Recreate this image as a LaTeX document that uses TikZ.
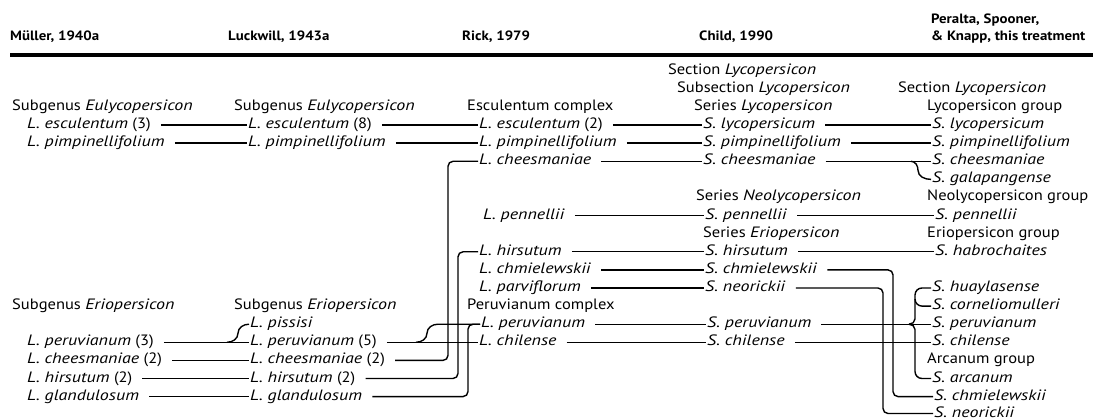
\documentclass[tikz,border=0pt]{standalone}
\usepackage{fontspec}
\setmainfont{PT Sans}[FakeStretch=1.1, ItalicFeatures={FakeStretch=1.2}]
\begin{document}
\begin{tikzpicture}[x=1pt,y=1pt,
  t/.style={anchor=west, inner sep=0pt, text height=10pt, text depth=3pt, font=\fontsize{15}{17}\selectfont},
  hd/.style={t, font=\fontsize{13.5}{16}\selectfont\bfseries},
  ln/.style={line width=1.4pt},
  rc/.style={ln, rounded corners=5pt},
  rule/.style={line width=3.6pt}]
\useasboundingbox (0,0) rectangle (1099,-419);
% headers
\node[hd] (hM) at (10,-37) {Müller, 1940a};
\node[hd] (hL) at (228,-37) {Luckwill, 1943a};
\node[hd] (hR) at (462,-37) {Rick, 1979};
\node[hd] (hC) at (699,-37) {Child, 1990};
\node[hd] (hP1) at (931,-20) {Peralta, Spooner,};
\node[hd] (hP2) at (931,-37) {\& Knapp, this treatment};
\coordinate (ruleL) at (10,-55);
\coordinate (ruleR) at (1093,-55);
\draw[rule] (ruleL) -- (ruleR);
% Muller
\node[t] (mSub) at (12,-107) {Subgenus \textit{Eulycopersicon}};
\node[t] (mEsc) at (27,-125.1) {\textit{L. esculentum} (3)};
\node[t] (mPim) at (27,-143.2) {\textit{L. pimpinellifolium}};
\node[t] (mSub2) at (12,-306.1) {Subgenus \textit{Eriopersicon}};
\node[t] (mPer) at (27,-342.3) {\textit{L. peruvianum} (3)};
\node[t] (mChe) at (27,-360.4) {\textit{L. cheesmaniae} (2)};
\node[t] (mHir) at (27,-378.5) {\textit{L. hirsutum} (2)};
\node[t] (mGla) at (27,-396.6) {\textit{L. glandulosum}};
% Luckwill
\node[t] (lSub) at (234,-107) {Subgenus \textit{Eulycopersicon}};
\node[t] (lEsc) at (248,-125.1) {\textit{L. esculentum} (8)};
\node[t] (lPim) at (248,-143.2) {\textit{L. pimpinellifolium}};
\node[t] (lSub2) at (234,-306.1) {Subgenus \textit{Eriopersicon}};
\node[t] (lPis) at (250,-324.2) {\textit{L. pissisi}};
\node[t] (lPer) at (250,-342.3) {\textit{L. peruvianum} (5)};
\node[t] (lChe) at (250,-360.4) {\textit{L. cheesmaniae} (2)};
\node[t] (lHir) at (250,-378.5) {\textit{L. hirsutum} (2)};
\node[t] (lGla) at (250,-396.6) {\textit{L. glandulosum}};
% Rick
\node[t] (rCx) at (467,-107) {Esculentum complex};
\node[t] (rEsc) at (479,-125.1) {\textit{L. esculentum} (2)};
\node[t] (rPim) at (479,-143.2) {\textit{L. pimpinellifolium}};
\node[t] (rChe) at (479,-161.3) {\textit{L. cheesmaniae}};
\node[t] (rPen) at (483,-215.6) {\textit{L. pennellii}};
\node[t] (rHir) at (479,-251.8) {\textit{L. hirsutum}};
\node[t] (rChm) at (479,-269.9) {\textit{L. chmielewskii}};
\node[t] (rPar) at (479,-288) {\textit{L. parviflorum}};
\node[t] (rPx) at (467,-306.1) {Peruvianum complex};
\node[t] (rPer) at (481,-324.2) {\textit{L. peruvianum}};
\node[t] (rChi) at (479,-342.3) {\textit{L. chilense}};
% Child
\node[t] (cSec) at (668,-70.8) {Section \textit{Lycopersicon}};
\node[t] (cSub) at (677,-88.9) {Subsection \textit{Lycopersicon}};
\node[t] (cSer) at (694,-107) {Series \textit{Lycopersicon}};
\node[t] (cLyc) at (703,-125.1) {\textit{S. lycopersicum}};
\node[t] (cPim) at (703,-143.2) {\textit{S. pimpinellifolium}};
\node[t] (cChe) at (703,-161.3) {\textit{S. cheesmaniae}};
\node[t] (cSerN) at (696,-197.5) {Series \textit{Neolycopersicon}};
\node[t] (cPen) at (705,-215.6) {\textit{S. pennellii}};
\node[t] (cSerE) at (703,-233.7) {Series \textit{Eriopersicon}};
\node[t] (cHir) at (705,-251.8) {\textit{S. hirsutum}};
\node[t] (cChm) at (705,-269.9) {\textit{S. chmielewskii}};
\node[t] (cNeo) at (705,-288) {\textit{S. neorickii}};
\node[t] (cPer) at (707,-324.2) {\textit{S. peruvianum}};
\node[t] (cChi) at (707,-342.3) {\textit{S. chilense}};
% Peralta et al.
\node[t] (pSec) at (898,-88.9) {Section \textit{Lycopersicon}};
\node[t] (pLg) at (927,-107) {Lycopersicon group};
\node[t] (pLyc) at (932,-125.1) {\textit{S. lycopersicum}};
\node[t] (pPim) at (932,-143.2) {\textit{S. pimpinellifolium}};
\node[t] (pChe) at (932,-161.3) {\textit{S. cheesmaniae}};
\node[t] (pGal) at (932,-179.4) {\textit{S. galapangense}};
\node[t] (pNg) at (927,-197.5) {Neolycopersicon group};
\node[t] (pPen) at (935,-215.6) {\textit{S. pennellii}};
\node[t] (pEg) at (927,-233.7) {Eriopersicon group};
\node[t] (pHab) at (935,-251.8) {\textit{S. habrochaites}};
\node[t] (pHua) at (932,-288) {\textit{S. huaylasense}};
\node[t] (pCor) at (932,-306.1) {\textit{S. corneliomulleri}};
\node[t] (pPer) at (932,-324.2) {\textit{S. peruvianum}};
\node[t] (pChi) at (932,-342.3) {\textit{S. chilense}};
\node[t] (pAg) at (927,-360.4) {Arcanum group};
\node[t] (pArc) at (932,-378.5) {\textit{S. arcanum}};
\node[t] (pChm) at (934,-396.6) {\textit{S. chmielewskii}};
\node[t] (pNeo) at (934,-413.5) {\textit{S. neorickii}};
% straight connectors
\foreach \a/\b in {mEsc/lEsc, mPim/lPim, mPer/lPer, mChe/lChe, mHir/lHir, mGla/lGla,
  lEsc/rEsc, lPim/rPim, lPer/rChi,
  rEsc/cLyc, rPim/cPim, rChe/cChe, rPen/cPen, rHir/cHir, rChm/cChm, rPar/cNeo, rPer/cPer, rChi/cChi,
  cLyc/pLyc, cPim/pPim, cChe/pChe, cPen/pPen, cHir/pHab, cPer/pPer, cChi/pChi}
  \draw[ln] ([xshift=10pt]\a.east) -- ([xshift=-1pt]\b.west);
% vertical routes
\coordinate (v1) at (448,0);
\coordinate (v2) at (458,0);
\coordinate (v3) at (468,0);
\coordinate (v4) at (883,0);
\coordinate (v5) at (893,0);
\draw[rc] ([xshift=10pt]lChe.east) -- (v1 |- lChe.east) -- (v1 |- rChe.west) -- ([xshift=-1pt]rChe.west);
\draw[rc] ([xshift=10pt]lHir.east) -- (v2 |- lHir.east) -- (v2 |- rHir.west) -- ([xshift=-1pt]rHir.west);
\draw[rc] ([xshift=10pt]lGla.east) -- (v3 |- lGla.east) -- (v3 |- rPer.west) -- ([xshift=-1pt]rPer.west);
\draw[rc] ([xshift=10pt]cChm.east) -- (v5 |- cChm.east) -- (v5 |- pChm.west) -- ([xshift=-1pt]pChm.west);
\draw[rc] ([xshift=10pt]cNeo.east) -- (v4 |- cNeo.east) -- (v4 |- pNeo.west) -- ([xshift=-1pt]pNeo.west);
% branch curves
\coordinate (bPis) at (227,-342.3);
\draw[ln] (bPis) to[out=0,in=-90] (238,-333.25) to[out=90,in=180] ([xshift=-1pt]lPis.west);
\coordinate (bPer) at (416,-342.3);
\draw[ln] (bPer) to[out=0,in=-90] (427,-333.25) to[out=90,in=180] (438,-324.2) -- ([xshift=-1pt]rPer.west);
\coordinate (bGal) at (911,-161.3);
\draw[ln] (bGal) to[out=0,in=90] (918,-170.35) to[out=-90,in=180] ([xshift=-1pt]pGal.west);
% Peruvianum brace
\coordinate (tip) at (909,-324.2);
\draw[ln] ([xshift=-1pt]pHua.west) -- (922,-288) to[out=180,in=90] (915,-295) -- (915,-319) to[out=-90,in=0] (tip);
\draw[ln] (tip) to[out=0,in=90] (915,-329.4) -- (915,-371.5) to[out=-90,in=180] (922,-378.5) -- ([xshift=-1pt]pArc.west);
\draw[ln] (915,-299) to[out=-90,in=180] (922,-306.1) -- ([xshift=-1pt]pCor.west);
\end{tikzpicture}
\end{document}
